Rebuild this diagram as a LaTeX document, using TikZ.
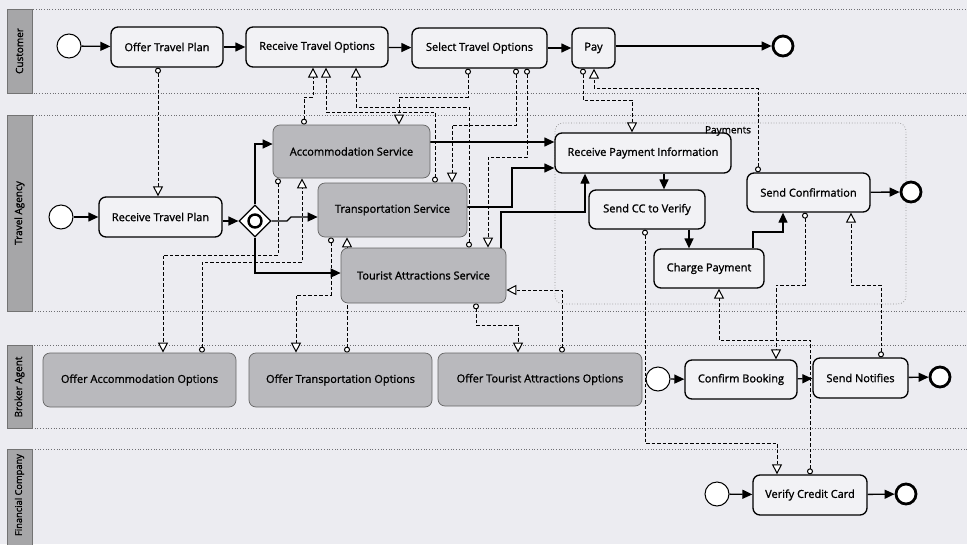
\documentclass[tikz,border=0pt]{standalone}
\usepackage{fontspec}
\setmainfont{Open Sans}
\newfontfamily\lblfont{Open Sans}[FakeBold=1.3]
\usetikzlibrary{arrows.meta,shapes.geometric}
\pgfdeclarelayer{back}
\pgfdeclarelayer{flows}
\pgfsetlayers{back,flows,main}
\definecolor{bg}{HTML}{ECECF1}
\definecolor{taskfill}{HTML}{F2F2F5}
\definecolor{graytask}{HTML}{B9B9BD}
\definecolor{headfill}{HTML}{A6A6A8}
\definecolor{laneline}{HTML}{6E6E72}
\tikzset{
  task/.style={rectangle, rounded corners=7pt, draw=black, line width=1.3pt, fill=taskfill,
    font=\lblfont\fontsize{11}{13}\selectfont, inner sep=0pt},
  graybox/.style={task, fill=graytask, draw=black!60, line width=0.7pt},
  startev/.style={circle, draw=black, line width=1pt, fill=white, minimum size=24pt, inner sep=0pt},
  endev/.style={circle, draw=black, line width=2.8pt, fill=white, minimum size=20pt, inner sep=0pt},
  gateway/.style={diamond, aspect=1, draw=black, line width=1.2pt, fill=white, minimum size=32pt, inner sep=0pt},
  seqflow/.style={line width=1.3pt, -{Triangle[length=10pt,width=9pt]}},
  msgflow/.style={line width=1pt, dash pattern=on 3.5pt off 2pt,
    {Circle[length=6pt,width=6pt,fill=white,line width=1pt]}-{Triangle[length=10pt,width=10pt,fill=white,line width=1pt]}},
  lanebox/.style={draw=laneline, line width=0.7pt, dotted},
  lanehead/.style={fill=headfill, draw=black!55, line width=0.5pt},
  headtext/.style={rotate=90, font=\lblfont\fontsize{10}{12}\selectfont, inner sep=0pt},
  groupbox/.style={draw=black!45, line width=0.7pt, dotted, rounded corners=8pt},
}
\begin{document}
\begin{tikzpicture}[x=1pt,y=-1pt]
\useasboundingbox (0,0) rectangle (967,544);
\clip (0,0) rectangle (967,544);
\begin{pgfonlayer}{back}
\fill[bg] (0,0) rectangle (967,544);
% lanes
\draw[lanebox] (7,9) rectangle (980,93);
\draw[lanebox] (7,115) rectangle (980,311);
\draw[lanebox] (7,345) rectangle (980,428);
\draw[lanebox] (7,449) rectangle (980,600);
\draw[lanehead] (7,9) rectangle (32,93);
\draw[lanehead] (7,115) rectangle (32,311);
\draw[lanehead] (7,345) rectangle (32,428);
\draw[lanehead] (7,449) rectangle (32,600);
% group
\draw[groupbox] (555,123) rectangle (906,304);
\end{pgfonlayer}

\node[headtext] (hcu) at (19.5,51) {Customer};
\node[headtext] (hta) at (19.5,213) {Travel Agency};
\node[headtext] (hba) at (19.5,387) {Broker Agent};
\node[headtext, font=\lblfont\fontsize{9.3}{11}\selectfont] (hfc) at (19.5,495) {Financial Company};

% Customer
\node[startev] (cs) at (69,46) {};
\node[task, minimum width=112pt, minimum height=40pt] (otp) at (167,47) {Offer Travel Plan};
\node[task, minimum width=142pt, minimum height=40pt] (rto) at (317,47) {Receive Travel Options};
\node[task, minimum width=135pt, minimum height=40pt] (sto) at (479.5,48) {Select Travel Options};
\node[task, minimum width=43pt, minimum height=40pt] (pay) at (593.5,48) {Pay};
\node[endev] (ce) at (783,46) {};

% Travel Agency
\node[startev] (as) at (61,217) {};
\node[task, minimum width=123pt, minimum height=40pt] (rtp) at (160.5,217) {Receive Travel Plan};
\node[gateway] (gw) at (255,221) {};
\draw[line width=2.4pt] (gw) circle (6.5pt);
\node[graybox, minimum width=157pt, minimum height=53pt] (acc) at (351.5,151.5) {Accommodation Service};
\node[graybox, minimum width=149pt, minimum height=54pt] (trn) at (392.5,210) {Transportation Service};
\node[graybox, minimum width=165pt, minimum height=55pt] (tou) at (423.5,275.5) {Tourist Attractions Service};
\node[task, minimum width=176pt, minimum height=40pt] (rpi) at (643,153) {Receive Payment Information};
\node[task, minimum width=116pt, minimum height=39pt] (scv) at (647,209.5) {Send CC to Verify};
\node[task, minimum width=110pt, minimum height=39pt] (chg) at (709,268.5) {Charge Payment};
\node[task, minimum width=123pt, minimum height=39pt] (sco) at (808.5,192.5) {Send Confirmation};
\node[endev] (ae) at (911,192) {};
\node[font=\lblfont\fontsize{10}{12}\selectfont, inner sep=0pt] (pgl) at (728,131) {Payments};

% Broker Agent
\node[graybox, minimum width=193pt, minimum height=54pt] (oao) at (139.5,380) {Offer Accommodation Options};
\node[graybox, minimum width=183pt, minimum height=54pt] (oto) at (340.5,380) {Offer Transportation Options};
\node[graybox, minimum width=204pt, minimum height=53pt] (ota) at (540,379.5) {Offer Tourist Attractions Options};
\node[startev] (bs) at (658,379) {};
\node[task, minimum width=112pt, minimum height=39pt] (cb) at (741,379.5) {Confirm Booking};
\node[task, minimum width=95pt, minimum height=40pt] (sn) at (860.5,378) {Send Notifies};
\node[endev] (be) at (940,377) {};

% Financial Company
\node[startev] (fs) at (717,494) {};
\node[task, minimum width=114pt, minimum height=40pt] (vcc) at (810,495) {Verify Credit Card};
\node[endev] (fe) at (906,494) {};

\begin{pgfonlayer}{flows}
% sequence flows
\draw[seqflow] (cs) -- (otp);
\draw[seqflow] (otp) -- (rto);
\draw[seqflow] (rto) -- (sto);
\draw[seqflow] (sto) -- (pay);
\draw[seqflow] (pay.east |- ce) -- (ce);
\draw[seqflow] (as) -- (rtp);
\draw[seqflow] (rtp.east |- gw) -- (gw);
\draw[seqflow] (gw.north) -- (gw.north |- 0,144) -- (acc.west |- 0,144);
\draw[seqflow] (gw.east) -- (287,221) -- (291,217) -- (trn.west |- 0,217);
\draw[seqflow] (gw.south) -- (gw.south |- 0,273) -- (tou.west |- 0,273);
\draw[seqflow] (acc.east |- 0,142) -- (rpi.west |- 0,142);
\draw[seqflow] (trn.east |- 0,207) -- (512,207) -- (512,168) -- (rpi.west |- 0,168);
\draw[seqflow] (tou.north -| 501,0) -- (501,212) -- (585,212) -- (rpi.south -| 585,0);
\draw[seqflow] (rpi.south -| 664,0) -- (scv.north -| 664,0);
\draw[seqflow] (scv.south -| 689,0) -- (chg.north -| 689,0);
\draw[seqflow] (chg.north -| 753,0) -- (753,232) -- (783,232) -- (sco.south -| 783,0);
\draw[seqflow] (sco) -- (ae);
\draw[seqflow] (bs) -- (cb);
\draw[seqflow] (cb) -- (sn);
\draw[seqflow] (sn) -- (be);
\draw[seqflow] (fs) -- (vcc);
\draw[seqflow] (vcc) -- (fe);

% message flows
\draw[msgflow] (otp.south -| 158,0) -- (rtp.north -| 158,0);
\draw[msgflow] (acc.north -| 304,0) -- (304,97) -- (313,97) -- (rto.south -| 313,0);
\draw[msgflow] (trn.north -| 435,0) -- (435,112) -- (326,112) -- (rto.south -| 326,0);
\draw[msgflow] (tou.north -| 469,0) -- (469,107) -- (356,107) -- (rto.south -| 356,0);
\draw[msgflow] (sto.south -| 468,0) -- (468,97) -- (399,97) -- (acc.north -| 399,0);
\draw[msgflow] (sto.south -| 516,0) -- (516,125) -- (452,125) -- (trn.north -| 452,0);
\draw[msgflow] (sto.south -| 527,0) -- (527,157) -- (488,157) -- (tou.north -| 488,0);
\draw[msgflow] (pay.south -| 583,0) -- (583,100) -- (632,100) -- (rpi.north -| 632,0);
\draw[msgflow] (sco.north -| 758,0) -- (758,88) -- (594,88) -- (pay.south -| 594,0);
\draw[msgflow] (acc.south -| 278,0) -- (278,255) -- (163,255) -- (oao.north -| 163,0);
\draw[msgflow] (oao.north -| 202,0) -- (202,262) -- (302,262) -- (acc.south -| 302,0);
\draw[msgflow] (trn.south -| 331,0) -- (331,295) -- (296,295) -- (oto.north -| 296,0);
\draw[msgflow] (oto.north -| 347,0) -- (trn.south -| 347,0);
\draw[msgflow] (tou.south -| 476,0) -- (476,325) -- (518,325) -- (ota.north -| 518,0);
\draw[msgflow] (ota.north -| 562,0) -- (562,290) -- (tou.east |- 0,290);
\draw[msgflow] (scv.south -| 645,0) -- (645,443) -- (777,443) -- (vcc.north -| 777,0);
\draw[msgflow] (vcc.north -| 810,0) -- (810,340) -- (719,340) -- (chg.south -| 719,0);
\draw[msgflow] (sco.south -| 805,0) -- (805,285) -- (776,285) -- (cb.north -| 776,0);
\draw[msgflow] (sn.north -| 881,0) -- (881,285) -- (851,285) -- (sco.south -| 851,0);
\end{pgfonlayer}
\end{tikzpicture}
\end{document}
